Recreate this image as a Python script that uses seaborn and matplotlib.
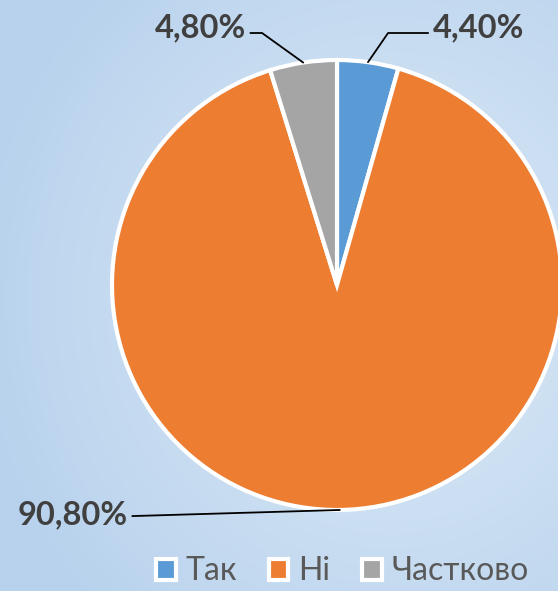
import matplotlib
matplotlib.use("Agg")
import matplotlib.pyplot as plt
import numpy as np
import seaborn as sns

labels = ["Так", "Ні", "Частково"]
values = [4.4, 90.8, 4.8]
value_text = ["4,40%", "90,80%", "4,80%"]
colors = ["#5b9bd5", "#ed7d31", "#a5a5a5"]

sns.set_style("white")
plt.rcParams["font.family"] = ["Lato", "DejaVu Sans"]

W, H = 558, 591
fig = plt.figure(figsize=(W / 100, H / 100), dpi=100)

# radial gradient background
bg = fig.add_axes([0, 0, 1, 1])
yy, xx = np.mgrid[0:H, 0:W]
d = np.sqrt(((xx - 390) / W) ** 2 + ((yy - 300) / H) ** 2)
d = np.clip(d / 0.75, 0, 1)[..., None]
inner = np.array([222, 235, 247]) / 255
outer = np.array([184, 210, 237]) / 255
bg.imshow(inner * (1 - d) + outer * d, aspect="auto", extent=(0, 1, 0, 1))
bg.axis("off")

cx, cy, r = 337, 285, 225
ax = fig.add_axes([(cx - r) / W, (H - cy - r) / H, 2 * r / W, 2 * r / H])
ax.patch.set_alpha(0)
wedges, _ = ax.pie(values, colors=colors, startangle=90, counterclock=False,
                   wedgeprops=dict(edgecolor="white", linewidth=3))
for w in wedges:
    w.set_clip_on(False)
ax.set_xlim(-1, 1)
ax.set_ylim(-1, 1)
ax.set_aspect("equal")
ax.axis("off")

# label positions (elbow points, text anchor)
spec = {
    0: dict(path=[(0.227, 1.12), (0.405, 1.12)], txt=(0.425, 1.145), ha="left"),
    2: dict(path=[(-0.333, 1.12), (-0.385, 1.12)], txt=(-0.405, 1.145), ha="right"),
    1: dict(path=[(-0.91, -1.027)], txt=(-0.93, -1.02), ha="right"),
}
for i, s in spec.items():
    w = wedges[i]
    mid = np.deg2rad((w.theta1 + w.theta2) / 2)
    px, py = np.cos(mid), np.sin(mid)
    pts = [(px, py)] + s["path"]
    ax.plot([p[0] for p in pts], [p[1] for p in pts], color="black", lw=1.3,
            clip_on=False)
    ax.text(s["txt"][0], s["txt"][1], value_text[i], ha=s["ha"], va="center",
            fontsize=23.5, fontweight="bold", color="#404040", clip_on=False)

leg = fig.legend(wedges, labels, loc="center right", bbox_to_anchor=(0.976, 0.033),
                 ncol=3, frameon=False, fontsize=23, handlelength=0.62,
                 handleheight=0.62, handletextpad=0.3, columnspacing=1.0,
                 borderpad=0, labelcolor="#595959")

fig.savefig("out.png", dpi=100)
